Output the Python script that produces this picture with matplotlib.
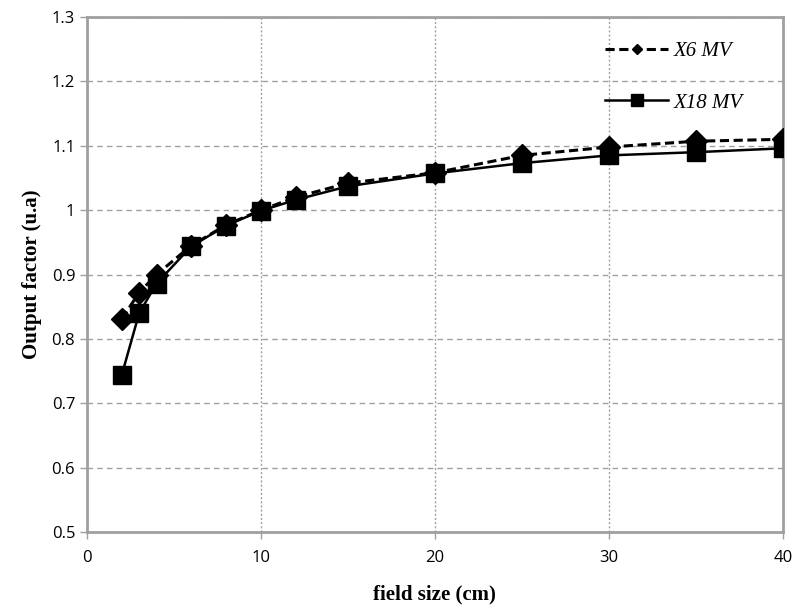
import matplotlib
matplotlib.use("Agg")
import matplotlib.pyplot as plt
from matplotlib.lines import Line2D

field_size = [2, 3, 4, 6, 8, 10, 12, 15, 20, 25, 30, 35, 40]
x6_mv = [0.831, 0.872, 0.900, 0.945, 0.977, 1.000, 1.020, 1.042, 1.058, 1.085, 1.098, 1.107, 1.110]
x18_mv = [0.744, 0.840, 0.886, 0.944, 0.976, 0.999, 1.016, 1.037, 1.057, 1.073, 1.085, 1.090, 1.096]

fig = plt.figure(figsize=(7.98, 6.06), dpi=100)
ax = fig.add_axes([0.109, 0.122, 0.872, 0.850])

ax.plot(field_size, x6_mv, color="black", lw=2.2, ls=(0, (3, 1.5)),
        marker="D", markersize=11, zorder=3)
ax.plot(field_size, x18_mv, color="black", lw=1.8, ls="-",
        marker="s", markersize=13, zorder=4)

ax.set_xlim(0, 40)
ax.set_ylim(0.5, 1.3)
ax.set_xticks([0, 10, 20, 30, 40])
ax.set_yticks([0.5, 0.6, 0.7, 0.8, 0.9, 1.0, 1.1, 1.2, 1.3])
ax.set_yticklabels(["0.5", "0.6", "0.7", "0.8", "0.9", "1", "1.1", "1.2", "1.3"])

ax.yaxis.grid(True, color="#a0a0a0", ls=(0, (4, 3)), lw=1)
ax.xaxis.grid(True, color="#a0a0a0", ls=(0, (1.5, 1.5)), lw=1)
ax.set_axisbelow(True)

for s in ax.spines.values():
    s.set_color("#a0a0a0")
    s.set_linewidth(2)

ax.tick_params(axis="both", colors="#a0a0a0", labelcolor="black",
               labelsize=12, length=5, width=1)
for lab in ax.get_xticklabels() + ax.get_yticklabels():
    lab.set_family("Open Sans")
ax.tick_params(axis="x", pad=8)

ax.set_xlabel("field size (cm)", family="Liberation Serif", fontweight="bold",
              fontsize=15, labelpad=13)
ax.set_ylabel("Output factor (u.a)", family="Liberation Serif", fontweight="bold",
              fontsize=15, labelpad=7)

handles = [
    Line2D([], [], color="black", lw=2.2, ls=(0, (3, 1.5)), marker="D", markersize=5),
    Line2D([], [], color="black", lw=1.8, ls="-", marker="s", markersize=8.5),
]
leg = ax.legend(handles, ["X6 MV", "X18 MV"], loc="upper left",
                bbox_to_anchor=(0.733, 0.969), frameon=False, handlelength=3.0,
                labelspacing=1.55, handletextpad=0.3, borderaxespad=0,
                prop={"family": "Liberation Serif", "style": "italic", "size": 15})

fig.savefig("out.png", dpi=100)
